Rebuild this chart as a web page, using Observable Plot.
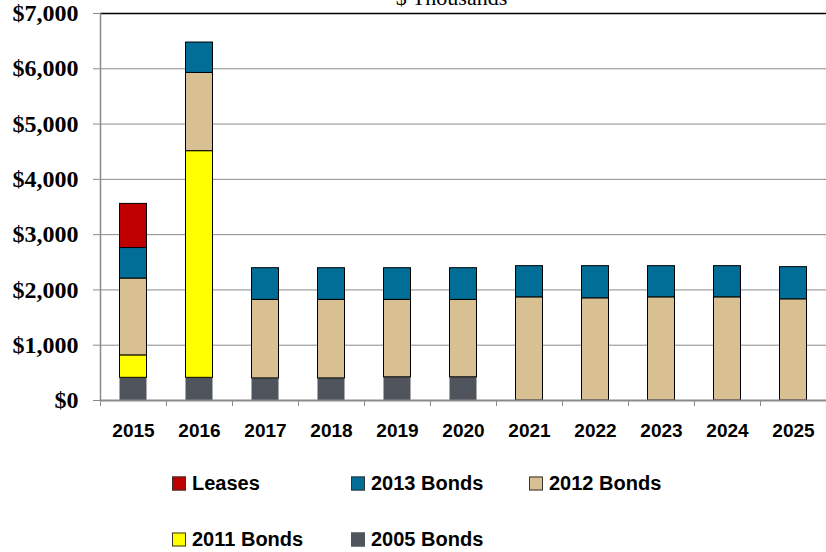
<!DOCTYPE html>
<html><head><meta charset="utf-8">
<script src="https://cdn.jsdelivr.net/npm/d3@7"></script>
<script src="https://cdn.jsdelivr.net/npm/@observablehq/plot@0.6"></script>
<style>
body{margin:0;background:#fff;width:826px;height:552px;overflow:hidden;position:relative}
#chart svg{display:block}
.item{position:absolute;display:flex;align-items:center;font:bold 20px "Liberation Sans",Arial,sans-serif;color:#000;transform:translateY(-50%);white-space:nowrap}
.sw{width:12px;height:12px;border:1px solid #333;margin-right:6px;box-sizing:content-box}
</style></head><body>
<div id="chart"></div>
<div id="legend"></div>
<script>
const titleText = "$ Thousands";
const years = ["2015","2016","2017","2018","2019","2020","2021","2022","2023","2024","2025"];
const series = ["2005 Bonds","2011 Bonds","2012 Bonds","2013 Bonds","Leases"];
const colors = ["#50555d","#ffff00","#d8c092","#006e96","#c00000"];
const bonds2005 = [410,410,400,400,420,420,0,0,0,0,0];
const bonds2011 = [406,4100,0,0,0,0,0,0,0,0,0];
const bonds2012 = [1390,1415,1420,1420,1400,1400,1866,1848,1866,1866,1830];
const bonds2013 = [552,550,573,573,573,573,564,582,564,564,582];
const leases = [798,0,0,0,0,0,0,0,0,0,0];
const yTicks = [0,1000,2000,3000,4000,5000,6000,7000];
const legendRows = [["Leases","2013 Bonds","2012 Bonds"],["2011 Bonds","2005 Bonds"]];

const values = [bonds2005, bonds2011, bonds2012, bonds2013, leases];
const data = years.flatMap((year, i) =>
  series.map((s, j) => ({year, series: s, value: values[j][i]})).filter(d => d.value > 0));

const stackOpts = () => Plot.stackY({x: "year", y: "value", fill: "series", insetLeft: 19.5, insetRight: 19.5});

const chart = Plot.plot({
  width: 826, height: 450,
  marginLeft: 100, marginRight: 0, marginTop: 13, marginBottom: 50,
  x: {domain: years, padding: 0, axis: null},
  y: {domain: [0, 7000], axis: null},
  color: {domain: series, range: colors},
  marks: [
    Plot.ruleY(yTicks.filter(d => d > 0 && d < 7000), {stroke: "#8a8a8a", strokeWidth: 1}),
    Plot.barY(data, Plot.filter(d => d.series === "2005 Bonds", stackOpts())),
    Plot.barY(data, {...Plot.filter(d => d.series !== "2005 Bonds", stackOpts()), stroke: "#000", strokeWidth: 1}),
    Plot.ruleY([7000], {stroke: "#000", strokeWidth: 1.5}),
    Plot.ruleX([years[0]], {x: d => d, dx: -33, stroke: "#8a8a8a", strokeWidth: 1.5}),
    Plot.ruleY([0], {stroke: "#8a8a8a", strokeWidth: 2}),
    Plot.ruleX(years, {x: d => d, dx: -33, y1: 0, y2: 0, insetBottom: -6, stroke: "#8a8a8a", strokeWidth: 1}),
    Plot.axisY({ticks: yTicks, tickSize: 7, tickPadding: 15, stroke: "#8a8a8a",
      tickFormat: d => "$" + d3.format(",")(d), label: null,
      fontSize: 24, fontWeight: "bold", fontFamily: "'Liberation Serif','Times New Roman',serif", fill: "#000"}),
    Plot.axisX({tickSize: 0, tickPadding: 23, label: null,
      fontSize: 19, fontWeight: "bold", fontFamily: "'Liberation Sans',Arial,sans-serif", fill: "#000"}),
    Plot.text([titleText], {text: d => d, frameAnchor: "top", dx: -12, dy: -9, lineAnchor: "bottom",
      fontSize: 22, fontFamily: "'Liberation Serif','Times New Roman',serif", fill: "#000"})
  ]
});
document.getElementById("chart").appendChild(chart);

const legendLeft = [172, 351, 529];
const legendTop = [483, 539];
const legend = document.getElementById("legend");
legendRows.forEach((row, r) => row.forEach((name, c) => {
  const item = document.createElement("div");
  item.className = "item";
  item.style.left = legendLeft[c] + "px";
  item.style.top = legendTop[r] + "px";
  const sw = document.createElement("span");
  sw.className = "sw";
  sw.style.background = colors[series.indexOf(name)];
  if (name === "2005 Bonds") sw.style.borderColor = colors[0];
  const t = document.createElement("span");
  t.textContent = name;
  item.appendChild(sw); item.appendChild(t);
  legend.appendChild(item);
}));
</script>
</body></html>
